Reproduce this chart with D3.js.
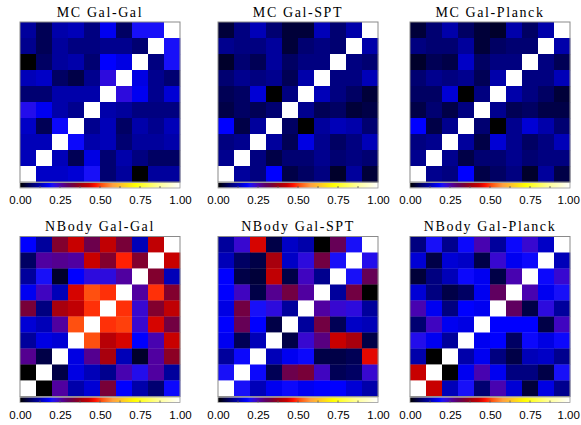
<!DOCTYPE html>
<html><head><meta charset="utf-8">
<script src="https://cdn.jsdelivr.net/npm/d3@7"></script>
<style>body{margin:0;background:#fff}</style>
</head><body><svg id="c" width="581" height="425"></svg>
<script>
const titles = ["MC Gal-Gal","MC Gal-SPT","MC Gal-Planck","NBody Gal-Gal","NBody Gal-SPT","NBody Gal-Planck"];
const tickValues = [0, 0.25, 0.5, 0.75, 1.0];
const tickLabels = ["0.00","0.25","0.50","0.75","1.00"];
const rowIdx = [0,1,2,3,4,5,6,7,8,9];
const colIdx = [0,1,2,3,4,5,6,7,8,9];

// rows listed top to bottom, columns left to right
const mcGalGal = [
 [0.11,0.06,0.12,0.13,0.09,0.17,0.07,0.20,0.20,1.00],
 [0.10,0.06,0.11,0.09,0.09,0.10,0.10,0.08,1.00,0.20],
 [0.00,0.07,0.11,0.12,0.08,0.18,0.16,1.00,0.09,0.20],
 [0.13,0.14,0.07,0.05,0.10,0.22,1.00,0.16,0.10,0.08],
 [0.08,0.08,0.12,0.12,0.12,1.00,0.22,0.17,0.10,0.15],
 [0.21,0.17,0.12,0.10,1.00,0.12,0.11,0.09,0.09,0.09],
 [0.14,0.06,0.19,1.00,0.10,0.13,0.07,0.12,0.10,0.13],
 [0.13,0.13,1.00,0.19,0.12,0.13,0.08,0.11,0.11,0.12],
 [0.13,1.00,0.13,0.06,0.16,0.08,0.12,0.09,0.07,0.07],
 [1.00,0.14,0.14,0.15,0.20,0.08,0.11,0.00,0.11,0.11]];
const mcGalSpt = [
 [0.04,0.09,0.13,0.08,0.04,0.04,0.13,0.08,0.12,1.00],
 [0.10,0.09,0.09,0.11,0.04,0.08,0.09,0.08,1.00,0.12],
 [0.03,0.08,0.06,0.11,0.07,0.09,0.09,1.00,0.09,0.08],
 [0.08,0.10,0.09,0.10,0.06,0.12,1.00,0.09,0.09,0.13],
 [0.06,0.07,0.15,0.00,0.09,1.00,0.13,0.09,0.07,0.04],
 [0.05,0.07,0.06,0.08,1.00,0.10,0.06,0.07,0.04,0.05],
 [0.18,0.05,0.11,1.00,0.07,0.00,0.11,0.13,0.12,0.08],
 [0.09,0.10,1.00,0.11,0.06,0.16,0.10,0.07,0.09,0.13],
 [0.10,1.00,0.09,0.05,0.08,0.08,0.10,0.08,0.09,0.08],
 [1.00,0.11,0.09,0.18,0.05,0.07,0.09,0.03,0.11,0.04]];
const mcGalPlanck = [
 [0.04,0.08,0.12,0.07,0.04,0.03,0.12,0.07,0.12,1.00],
 [0.09,0.08,0.08,0.11,0.04,0.07,0.08,0.08,1.00,0.12],
 [0.03,0.06,0.05,0.14,0.07,0.09,0.09,1.00,0.09,0.06],
 [0.08,0.10,0.09,0.10,0.06,0.12,1.00,0.09,0.09,0.13],
 [0.07,0.07,0.15,0.00,0.09,1.00,0.12,0.09,0.07,0.04],
 [0.05,0.08,0.05,0.09,1.00,0.10,0.06,0.07,0.05,0.05],
 [0.18,0.05,0.10,1.00,0.08,0.00,0.10,0.15,0.12,0.08],
 [0.09,0.10,1.00,0.11,0.05,0.15,0.10,0.07,0.09,0.13],
 [0.10,1.00,0.10,0.05,0.08,0.08,0.10,0.08,0.09,0.09],
 [1.00,0.10,0.09,0.18,0.05,0.07,0.09,0.03,0.11,0.05]];
const nbGalGal = [
 [0.18,0.11,0.35,0.43,0.32,0.42,0.34,0.13,0.42,1.00],
 [0.07,0.26,0.27,0.26,0.43,0.35,0.48,0.35,1.00,0.43],
 [0.11,0.20,0.03,0.18,0.22,0.22,0.26,1.00,0.35,0.13],
 [0.17,0.24,0.13,0.44,0.51,0.49,1.00,0.26,0.49,0.35],
 [0.34,0.09,0.39,0.42,0.49,1.00,0.49,0.23,0.35,0.42],
 [0.15,0.13,0.26,0.51,1.00,0.49,0.50,0.23,0.44,0.33],
 [0.11,0.16,0.15,1.00,0.51,0.41,0.44,0.18,0.25,0.43],
 [0.27,0.05,1.00,0.16,0.27,0.39,0.13,0.03,0.26,0.36],
 [0.00,1.00,0.05,0.16,0.13,0.10,0.25,0.21,0.26,0.11],
 [1.00,0.00,0.26,0.12,0.15,0.34,0.18,0.12,0.08,0.19]];
const nbGalSpt = [
 [0.11,0.23,0.44,0.05,0.14,0.12,0.00,0.31,0.20,1.00],
 [0.13,0.07,0.05,0.39,0.14,0.22,0.33,0.20,1.00,0.21],
 [0.18,0.05,0.04,0.42,0.05,0.24,0.10,1.00,0.20,0.31],
 [0.18,0.24,0.05,0.27,0.33,0.26,1.00,0.11,0.33,0.00],
 [0.16,0.33,0.20,0.22,0.11,1.00,0.26,0.23,0.22,0.11],
 [0.18,0.31,0.18,0.05,1.00,0.11,0.33,0.06,0.14,0.13],
 [0.17,0.06,0.13,1.00,0.05,0.23,0.28,0.43,0.39,0.05],
 [0.11,0.19,1.00,0.13,0.17,0.19,0.05,0.05,0.06,0.45],
 [0.20,1.00,0.19,0.06,0.32,0.34,0.24,0.06,0.07,0.23],
 [1.00,0.20,0.13,0.17,0.19,0.17,0.18,0.18,0.15,0.12]];
const nbGalPlanck = [
 [0.09,0.20,0.10,0.19,0.25,0.11,0.19,0.23,0.14,1.00],
 [0.15,0.05,0.15,0.14,0.05,0.23,0.17,0.19,1.00,0.13],
 [0.04,0.09,0.13,0.19,0.17,0.05,0.25,1.00,0.19,0.23],
 [0.15,0.09,0.05,0.07,0.17,0.30,1.00,0.25,0.17,0.20],
 [0.25,0.17,0.09,0.18,0.17,1.00,0.30,0.05,0.22,0.11],
 [0.08,0.24,0.17,0.16,1.00,0.18,0.18,0.18,0.05,0.24],
 [0.21,0.17,0.11,1.00,0.17,0.18,0.07,0.19,0.16,0.19],
 [0.12,0.00,1.00,0.12,0.17,0.09,0.05,0.13,0.14,0.10],
 [0.43,1.00,0.00,0.17,0.25,0.17,0.09,0.09,0.05,0.20],
 [1.00,0.43,0.13,0.20,0.08,0.25,0.15,0.04,0.16,0.10]];

const matrices = [mcGalGal, mcGalSpt, mcGalPlanck, nbGalGal, nbGalSpt, nbGalPlanck];

const cmapStops = [0,0.18,0.20,0.23,0.26,0.30,0.34,0.38,0.43,0.47,0.51,0.58,0.72,0.86,1.0];
const cmapColors = ["#000000","#0000ff","#1810f8","#3808d0","#5000a0","#600060","#780038","#a00010","#c80000","#ff1000","#ff5010","#ffa040","#ffff00","#ffff90","#ffffff"];
const color = d3.scaleLinear().domain(cmapStops).range(cmapColors).clamp(true);

const svg = d3.select("#c");
const size = 160;
const lefts = [20, 218, 410];
const tops = [22, 236.5];

matrices.forEach((m, k) => {
  const x0 = lefts[k % 3], y0 = tops[Math.floor(k / 3)];
  const g = svg.append("g").attr("transform", `translate(${x0},${y0})`);
  const xs = d3.scaleBand().domain(colIdx).range([0, size]);
  const ys = d3.scaleBand().domain(rowIdx).range([0, size]);
  const cells = [];
  m.forEach((row, i) => row.forEach((v, j) => cells.push({i, j, v})));
  g.selectAll("rect.cell").data(cells).join("rect")
    .attr("class","cell")
    .attr("x", d => xs(d.j)).attr("y", d => ys(d.i))
    .attr("width", xs.bandwidth() + 0.3).attr("height", ys.bandwidth() + 0.3)
    .attr("fill", d => color(d.v));
  g.append("rect").attr("width", size).attr("height", size)
    .attr("fill","none").attr("stroke","#8a8a8a").attr("stroke-width",1);
  g.append("text").attr("x", size/2).attr("y", -5.5)
    .attr("text-anchor","middle")
    .style("font-family","'Liberation Serif', serif").style("font-size","14px")
    .style("letter-spacing","1.6px")
    .text(titles[k]);

  // colorbar
  const cb = g.append("g").attr("transform", `translate(0,${size + 0.5})`);
  const cs = d3.scaleLinear().domain([0,1]).range([0,size]);
  const n = 160;
  const steps = d3.range(n).map(i => i / n);
  cb.selectAll("rect.cb").data(steps).join("rect").attr("class","cb")
    .attr("x", d => cs(d)).attr("y", 0.5)
    .attr("width", cs(1/n) + 0.3).attr("height", 4.5)
    .attr("fill", d => color(d + 0.5/n));
  cb.append("rect").attr("y",0).attr("width", size).attr("height", 5.5)
    .attr("fill","none").attr("stroke","#999").attr("stroke-width",0.8);
  cb.selectAll("line.mt").data(d3.range(1,8).map(i => i/8)).join("line").attr("class","mt")
    .attr("x1", d => cs(d)).attr("x2", d => cs(d)).attr("y1", 3.5).attr("y2", 5.5)
    .attr("stroke","#555").attr("stroke-width",0.8);
  const ax = d3.axisBottom(cs).tickValues(tickValues).tickFormat((d, i) => tickLabels[i]).tickSize(0).tickPadding(13.5);
  const axg = cb.append("g").call(ax);
  axg.select(".domain").remove();
  axg.selectAll("text").style("font-family","'Liberation Sans', sans-serif").style("font-size","11.5px").attr("fill","#000")
    .attr("dx", (d, i) => (i === tickLabels.length - 1 && k % 3 === 2) ? -1.8 : 0);
});
</script></body></html>
